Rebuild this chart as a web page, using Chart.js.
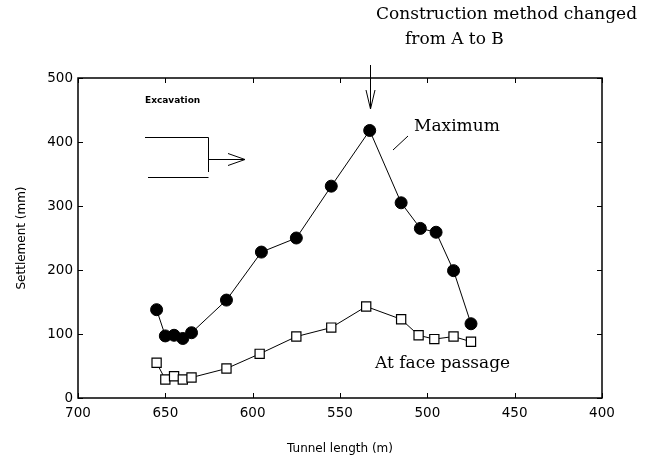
<!DOCTYPE html>
<html><head><meta charset="utf-8">
<style>html,body{margin:0;padding:0;background:#fff}#wrap{width:655px;height:460px}</style>
<script src="https://cdn.jsdelivr.net/npm/chart.js@4.4.0/dist/chart.umd.min.js"></script>
</head><body><div id="wrap"><canvas id="c" width="655" height="460"></canvas></div>
<script>
// ---- data ----
const maxX  = [655, 650, 645, 640, 635, 615, 595, 575, 555, 533, 515, 504, 495, 485, 475];
const maxY  = [138,  97,  98,  93, 102, 153, 228, 250, 331, 418, 305, 265, 259, 199, 116];
const faceX = [655, 650, 645, 640, 635, 615, 596, 575, 555, 535, 515, 505, 496, 485, 475];
const faceY = [ 55,  29,  34,  29,  32,  46,  69,  96, 110, 143, 123,  98,  92,  96,  88];
const xTicks = [700, 650, 600, 550, 500, 450, 400];
const yTicks = [0, 100, 200, 300, 400, 500];
const changeAt = 533;
const xTitle = 'Tunnel length (m)';
const yTitle = 'Settlement (mm)';

const tickFont = {family: 'DejaVu Sans', size: 13.5};
const titleFont = {family: 'DejaVu Sans', size: 12};
const serif = '17px "DejaVu Serif"';

const decor = {
  id: 'decor',
  afterDraw(chart) {
    const {ctx, chartArea: a, scales: {x, y}} = chart;
    ctx.save();
    ctx.strokeStyle = '#000';
    ctx.fillStyle = '#000';
    // frame
    ctx.lineWidth = 1.5;
    ctx.strokeRect(a.left, a.top, a.right - a.left, a.bottom - a.top);
    // inward ticks
    ctx.lineWidth = 1;
    ctx.beginPath();
    xTicks.forEach(v => {
      const px = Math.round(x.getPixelForValue(v)) + 0.5;
      ctx.moveTo(px, a.bottom); ctx.lineTo(px, a.bottom - 5);
      ctx.moveTo(px, a.top); ctx.lineTo(px, a.top + 5);
    });
    yTicks.forEach(v => {
      const py = Math.round(y.getPixelForValue(v)) + 0.5;
      ctx.moveTo(a.left, py); ctx.lineTo(a.left + 5, py);
      ctx.moveTo(a.right, py); ctx.lineTo(a.right - 5, py);
    });
    ctx.stroke();

    // construction change arrow
    const cx = Math.round(x.getPixelForValue(changeAt)) + 0.5;
    ctx.beginPath();
    ctx.moveTo(cx, 65); ctx.lineTo(cx, 109);
    ctx.moveTo(cx - 4.5, 90); ctx.lineTo(cx, 109); ctx.lineTo(cx + 4.5, 90);
    ctx.stroke();

    // excavation icon
    ctx.beginPath();
    ctx.moveTo(145, 137.5); ctx.lineTo(208.5, 137.5); ctx.lineTo(208.5, 172);
    ctx.moveTo(148, 177.5); ctx.lineTo(208.5, 177.5);
    ctx.moveTo(208.5, 159.5); ctx.lineTo(245, 159.5);
    ctx.moveTo(228, 153.5); ctx.lineTo(245, 159.5); ctx.lineTo(228, 165.5);
    ctx.stroke();

    // leader line for "Maximum"
    ctx.beginPath();
    ctx.moveTo(393, 150); ctx.lineTo(408, 136);
    ctx.stroke();

    // texts
    ctx.textBaseline = 'middle';
    ctx.textAlign = 'left';
    ctx.font = serif;
    ctx.fillText('Construction method changed', 376, 15);
    ctx.fillText('from A to B', 405, 40);
    ctx.fillText('Maximum', 414, 127);
    ctx.fillText('At face passage', 375, 364);
    ctx.font = 'bold 9px "DejaVu Sans"';
    ctx.fillText('Excavation', 145, 101);
    ctx.restore();
  }
};

new Chart(document.getElementById('c'), {
  type: 'scatter',
  data: {
    datasets: [
      {
        label: 'Maximum',
        data: maxX.map((v, i) => ({x: v, y: maxY[i]})),
        showLine: true,
        borderColor: '#000',
        borderWidth: 1,
        backgroundColor: '#000',
        pointStyle: 'circle',
        pointRadius: 6,
        pointBorderWidth: 1,
        pointBackgroundColor: '#000',
        pointBorderColor: '#000'
      },
      {
        label: 'At face passage',
        data: faceX.map((v, i) => ({x: v, y: faceY[i]})),
        showLine: true,
        borderColor: '#000',
        borderWidth: 1,
        backgroundColor: '#fff',
        pointStyle: 'rect',
        pointRadius: 6.5,
        pointBorderWidth: 1.2,
        pointBackgroundColor: '#fff',
        pointBorderColor: '#000'
      }
    ]
  },
  options: {
    responsive: false,
    animation: false,
    devicePixelRatio: 1,
    layout: {padding: {top: 78, right: 53, left: 0, bottom: 0}},
    plugins: {legend: {display: false}, tooltip: {enabled: false}},
    scales: {
      x: {
        type: 'linear', reverse: true, min: 400, max: 700,
        afterBuildTicks: s => { s.ticks = xTicks.map(v => ({value: v})); },
        afterFit: s => { s.height = 62; },
        grid: {display: false, drawTicks: false},
        border: {display: false},
        ticks: {font: tickFont, color: '#000', padding: 7, maxRotation: 0, autoSkip: false},
        title: {display: true, text: xTitle, font: titleFont, color: '#000', padding: {top: 0, bottom: 4}}
      },
      y: {
        type: 'linear', min: 0, max: 500,
        afterBuildTicks: s => { s.ticks = yTicks.map(v => ({value: v})); },
        afterFit: s => { s.width = 78; },
        grid: {display: false, drawTicks: false},
        border: {display: false},
        ticks: {font: tickFont, color: '#000', padding: 5, autoSkip: false},
        title: {display: true, text: yTitle, font: titleFont, color: '#000', padding: {top: 15, bottom: 0}}
      }
    }
  },
  plugins: [decor]
});
</script></body></html>
